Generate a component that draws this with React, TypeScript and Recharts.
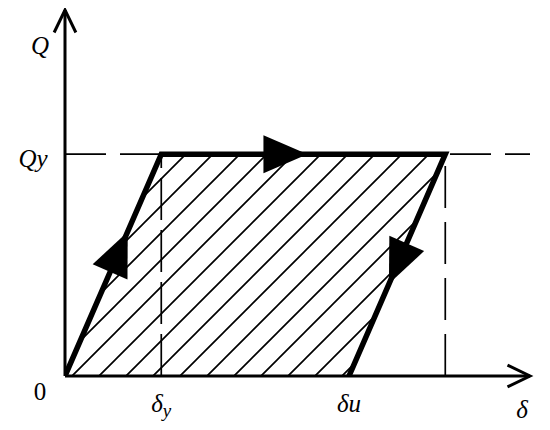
import React from 'react';
import { ComposedChart, XAxis, YAxis, Area, Line, ReferenceLine, ReferenceDot } from 'recharts';

// δy = 1, Qy = 1 (normalised)
const loopX = [0, 1, 3.95, 2.95];
const loopY = [0, 1, 1, 0];
const areaX = [0, 1, 2.95, 3.95];
const areaLow = [0, 0, 0, 1];
const areaHigh = [0, 1, 1, 1];
const xTicks = [1, 2.95];
const xTickLabels = ['δ|y', 'δ|u'];
const X_MAX = 4.83;
const Y_MAX = 1.65;

const loopData = loopX.map((x, i) => ({ x, y: loopY[i] }));
const areaData = areaX.map((x, i) => ({ x, range: [areaLow[i], areaHigh[i]] }));

const serif = '"Liberation Serif", "Times New Roman", serif';

const Tri = (angle: number) => (props: any) => {
  const { cx, cy } = props;
  if (cx == null || cy == null) return null;
  return (
    <polygon
      points="-22,-19 22,0 -22,19"
      transform={`translate(${cx},${cy}) rotate(${angle})`}
      fill="#000"
    />
  );
};

const ArrowLine = (props: any) => {
  const { x1, y1, x2, y2 } = props;
  const a = Math.atan2(y2 - y1, x2 - x1);
  const len = 25;
  const spread = 0.45;
  const p1 = [x2 - len * Math.cos(a - spread), y2 - len * Math.sin(a - spread)];
  const p2 = [x2 - len * Math.cos(a + spread), y2 - len * Math.sin(a + spread)];
  return (
    <g>
      <line x1={x1} y1={y1} x2={x2} y2={y2} stroke="#000" strokeWidth={3} />
      <polyline
        points={`${p1[0]},${p1[1]} ${x2},${y2} ${p2[0]},${p2[1]}`}
        fill="none"
        stroke="#000"
        strokeWidth={3}
      />
    </g>
  );
};

const Txt = (main: string, sub: string, dx: number, dy: number, italic = true) => (props: any) => {
  const { cx, cy } = props;
  if (cx == null || cy == null) return null;
  return (
    <text x={cx + dx} y={cy + dy} fontFamily={serif} fontStyle={italic ? 'italic' : 'normal'} fontSize={25} fill="#000" textAnchor="middle">
      {main}
      {sub ? <tspan>{sub}</tspan> : null}
    </text>
  );
};

const XTick = (props: any) => {
  const { x, y, payload } = props;
  const idx = xTicks.indexOf(payload.value);
  const [main, sub] = (xTickLabels[idx] || '').split('|');
  const isY = sub === 'y';
  return (
    <text x={x} y={y + 28} fontFamily={serif} fontStyle="italic" fontSize={25} fill="#000" textAnchor="middle">
      {main}
      <tspan dy={isY ? 5 : 0} fontSize={isY ? 19 : 25}>{sub}</tspan>
    </text>
  );
};

export default function App() {
  return (
    <ComposedChart width={534} height={414} margin={{ top: 2, right: 12, bottom: 16, left: 0 }}>
      <defs>
        <pattern id="hatch" patternUnits="userSpaceOnUse" width="27" height="27">
          <path d="M-7,7 L7,-7 M0,27 L27,0 M20,34 L34,20" stroke="#000" strokeWidth={1.7} />
        </pattern>
      </defs>
      <XAxis
        type="number"
        dataKey="x"
        domain={[0, X_MAX]}
        ticks={xTicks}
        tick={<XTick />}
        axisLine={false}
        tickLine={false}
        height={30}
        allowDataOverflow
      />
      <YAxis type="number" domain={[0, Y_MAX]} ticks={[]} axisLine={false} tickLine={false} width={57} allowDataOverflow />
      <Area
        data={areaData}
        dataKey="range"
        type="linear"
        fill="url(#hatch)"
        fillOpacity={1}
        stroke="none"
        isAnimationActive={false}
      />
      <ReferenceLine segment={[{ x: 0, y: 1 }, { x: X_MAX, y: 1 }]} stroke="#000" strokeWidth={1.7} strokeDasharray="41 14" />
      <ReferenceLine segment={[{ x: 1, y: 0 }, { x: 1, y: 1 }]} stroke="#000" strokeWidth={1.7} strokeDasharray="42 10" />
      <ReferenceLine segment={[{ x: 3.95, y: 0 }, { x: 3.95, y: 1 }]} stroke="#000" strokeWidth={1.7} strokeDasharray="42 14" />
      <ReferenceLine segment={[{ x: 0, y: 0 }, { x: X_MAX, y: 0 }]} shape={<ArrowLine />} />
      <ReferenceLine segment={[{ x: 0, y: 0 }, { x: 0, y: Y_MAX }]} shape={<ArrowLine />} />
      <Line
        data={loopData}
        dataKey="y"
        type="linear"
        stroke="#000"
        strokeWidth={5.5}
        strokeLinejoin="miter"
        dot={false}
        isAnimationActive={false}
      />
      <ReferenceDot x={0.56} y={0.56} r={0} shape={Tri(-66.3)} />
      <ReferenceDot x={2.29} y={1} r={0} shape={Tri(0)} />
      <ReferenceDot x={3.457} y={0.507} r={0} shape={Tri(113.9)} />
      <ReferenceDot x={0} y={Y_MAX} r={0} shape={Txt('Q', '', -25, 44)} />
      <ReferenceDot x={0} y={1} r={0} shape={Txt('Q', 'y', -32, 13)} />
      <ReferenceDot x={0} y={0} r={0} shape={Txt('0', '', -25, 24, false)} />
      <ReferenceDot x={X_MAX} y={0} r={0} shape={Txt('δ', '', -8, 42)} />
    </ComposedChart>
  );
}
